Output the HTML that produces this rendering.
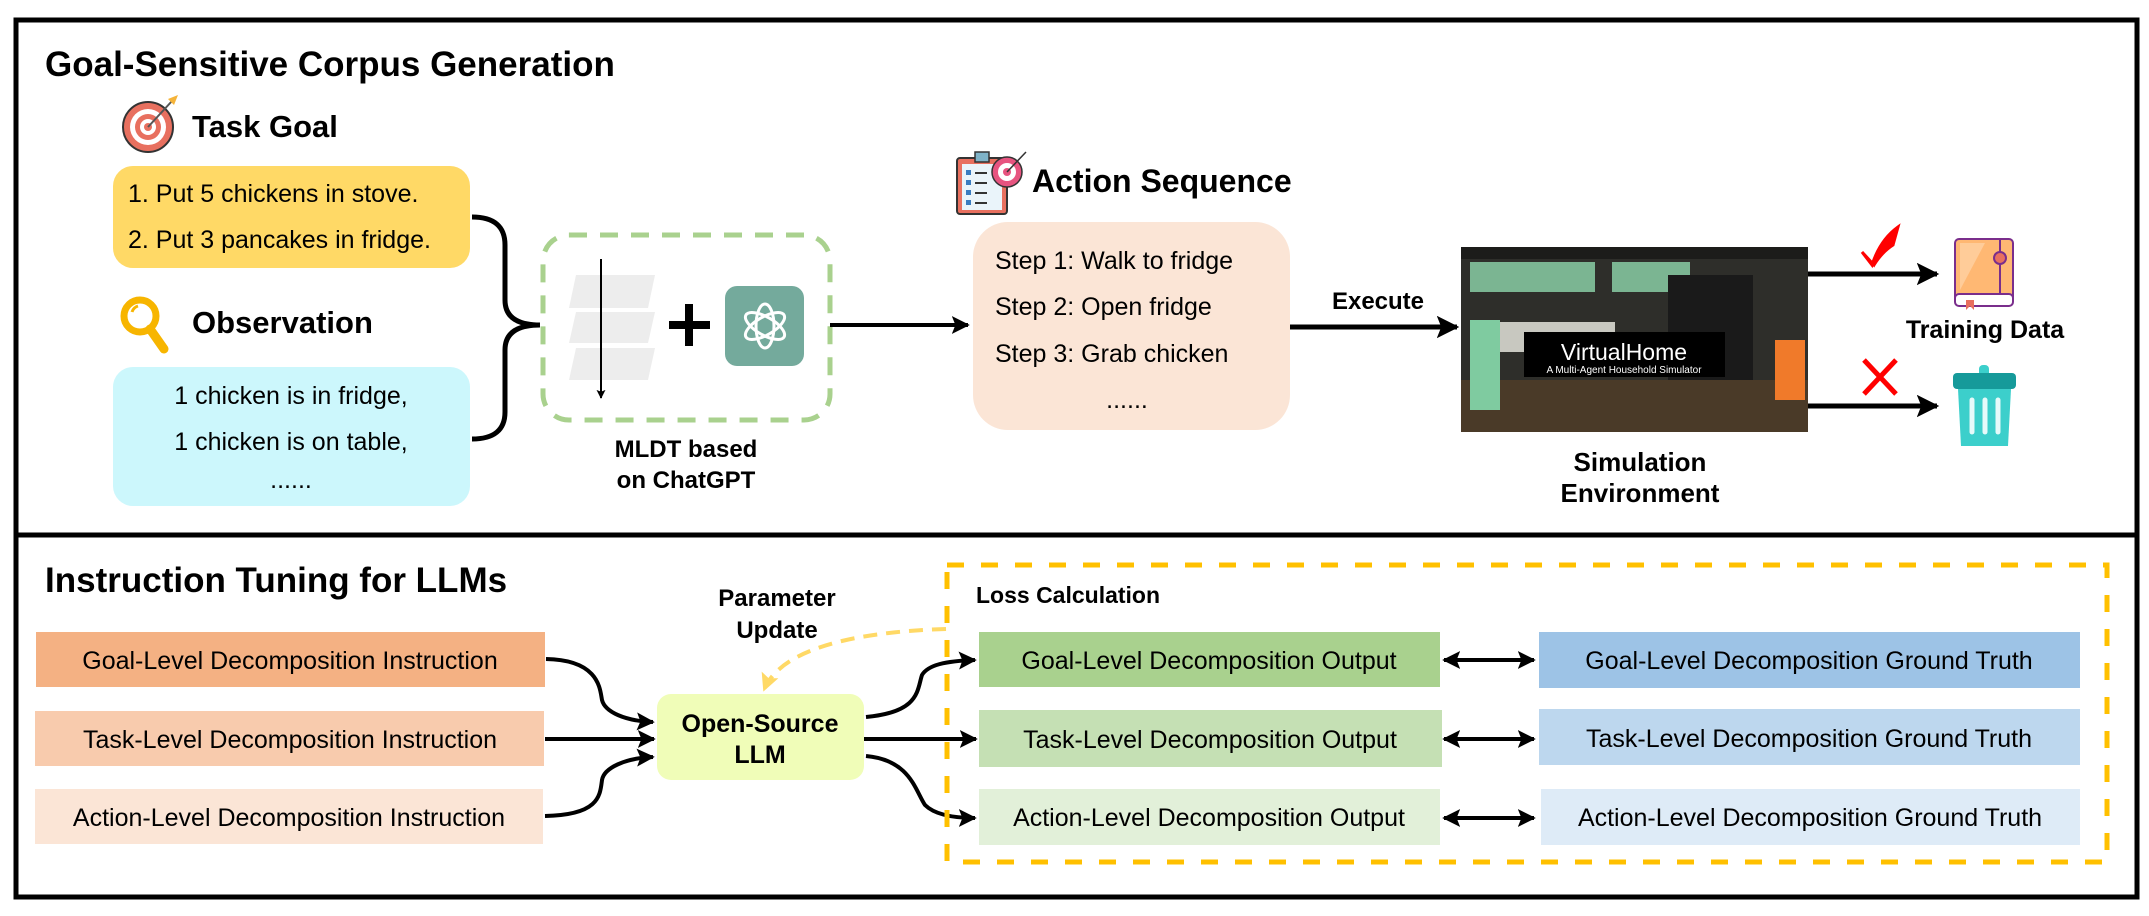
<!DOCTYPE html>
<html><head><meta charset="utf-8"><style>
html,body{margin:0;padding:0;background:#fff;}
svg{display:block;font-family:"Liberation Sans",sans-serif;}
</style></head><body>
<svg width="2149" height="916" viewBox="0 0 2149 916" xmlns="http://www.w3.org/2000/svg">
<defs>
<marker id="ah" viewBox="0 0 10 10" refX="9" refY="5" markerWidth="4.5" markerHeight="4.5" orient="auto-start-reverse" markerUnits="strokeWidth"><path d="M0,0 L10,5 L0,10 L2,5 z" fill="#000"/></marker>
<marker id="ay" viewBox="0 0 10 10" refX="9" refY="5" markerWidth="4.5" markerHeight="4.5" orient="auto" markerUnits="strokeWidth"><path d="M0,0 L10,5 L0,10 L2,5 z" fill="#FFD966"/></marker>
</defs>
<rect x="16" y="20" width="2121" height="877" fill="#fff" stroke="#000" stroke-width="5"/>
<line x1="16" y1="535" x2="2137" y2="535" stroke="#000" stroke-width="5"/>

<text x="45" y="76" font-size="35" font-weight="bold">Goal-Sensitive Corpus Generation</text>
<g transform="translate(148,127)">
<circle r="25" fill="#E8705F" stroke="#333" stroke-width="2"/><circle r="18" fill="#fff"/><circle r="13" fill="#E8705F"/><circle r="8" fill="#fff"/><circle r="4" fill="#E8705F"/>
<line x1="0" y1="0" x2="24" y2="-26" stroke="#555" stroke-width="2"/><path d="M20,-28 L30,-32 L26,-22 z" fill="#F5B43A"/>
</g>
<text x="192" y="137" font-size="31" font-weight="bold">Task Goal</text>
<rect x="113" y="166" width="357" height="102" rx="20" fill="#FFD966"/>
<text x="128" y="202" font-size="25">1. Put 5 chickens in stove.</text>
<text x="128" y="248" font-size="25">2. Put 3 pancakes in fridge.</text>
<g transform="translate(140,316)">
<circle r="16" fill="none" stroke="#F7B500" stroke-width="7"/><line x1="10" y1="13" x2="24" y2="33" stroke="#F7B500" stroke-width="9" stroke-linecap="round"/>
<path d="M-8,-4 A9,9 0 0 1 -2,-10" stroke="#F7B500" stroke-width="3" fill="none"/>
</g>
<text x="192" y="333" font-size="31" font-weight="bold">Observation</text>
<rect x="113" y="367" width="357" height="139" rx="20" fill="#CCF7FC"/>
<text x="291" y="404" font-size="25" text-anchor="middle">1 chicken is in fridge,</text>
<text x="291" y="450" font-size="25" text-anchor="middle">1 chicken is on table,</text>
<text x="291" y="488" font-size="25" text-anchor="middle">......</text>
<path d="M472,217 Q505,217 505,245 L505,300 Q505,325 540,325 Q505,325 505,350 L505,412 Q505,439 472,439" fill="none" stroke="#000" stroke-width="5"/>
<rect x="543" y="235" width="287" height="185" rx="26" fill="none" stroke="#A9D18E" stroke-width="5" stroke-dasharray="18,13"/>
<polygon points="576,275 655,275 648,308 569,308" fill="#EDEDED"/>
<polygon points="576,312 655,312 648,343 569,343" fill="#EDEDED"/>
<polygon points="576,348 655,348 648,380 569,380" fill="#EDEDED"/>
<line x1="601" y1="259" x2="601" y2="398" stroke="#000" stroke-width="2" marker-end="url(#ah)"/>
<path d="M669,325 H710 M689,304 V346" stroke="#000" stroke-width="8"/>
<rect x="725" y="286" width="79" height="80" rx="12" fill="#74AA9C"/>
<g transform="translate(765,326)" fill="none" stroke="#fff" stroke-width="3">
<ellipse rx="9" ry="22"/><ellipse rx="9" ry="22" transform="rotate(60)"/><ellipse rx="9" ry="22" transform="rotate(120)"/>
</g>
<text x="686" y="457" font-size="24" font-weight="bold" text-anchor="middle">MLDT based</text>
<text x="686" y="488" font-size="24" font-weight="bold" text-anchor="middle">on ChatGPT</text>
<line x1="830" y1="325" x2="968" y2="325" stroke="#000" stroke-width="4" marker-end="url(#ah)"/>
<g transform="translate(957,150)">
<rect x="0" y="8" width="50" height="56" rx="3" fill="#E8705F" stroke="#333" stroke-width="2"/>
<rect x="5" y="14" width="40" height="46" fill="#EAF4FA"/>
<rect x="18" y="2" width="14" height="10" fill="#7FB3C8" stroke="#333" stroke-width="1.5"/>
<g fill="#3A7CC0"><rect x="9" y="20" width="5" height="5"/><rect x="9" y="30" width="5" height="5"/><rect x="9" y="40" width="5" height="5"/><rect x="9" y="50" width="5" height="5"/></g>
<g stroke="#333" stroke-width="2"><line x1="18" y1="23" x2="30" y2="23"/><line x1="18" y1="33" x2="30" y2="33"/><line x1="18" y1="43" x2="30" y2="43"/><line x1="18" y1="53" x2="30" y2="53"/></g>
<circle cx="50" cy="22" r="15" fill="#E75480" stroke="#333" stroke-width="1.5"/><circle cx="50" cy="22" r="9" fill="#fff"/><circle cx="50" cy="22" r="4" fill="#E75480"/>
<line x1="50" y1="22" x2="69" y2="2" stroke="#333" stroke-width="1.5"/>
</g>
<text x="1032" y="192" font-size="32" font-weight="bold">Action Sequence</text>
<rect x="973" y="222" width="317" height="208" rx="35" fill="#FBE5D6"/>
<text x="995" y="269" font-size="25">Step 1: Walk to fridge</text>
<text x="995" y="315" font-size="25">Step 2: Open fridge</text>
<text x="995" y="362" font-size="25">Step 3: Grab chicken</text>
<text x="1127" y="408" font-size="25" text-anchor="middle">......</text>
<line x1="1290" y1="327" x2="1457" y2="327" stroke="#000" stroke-width="5" marker-end="url(#ah)"/>
<text x="1378" y="309" font-size="24" font-weight="bold" text-anchor="middle">Execute</text>
<rect x="1461" y="247" width="347" height="185" fill="#2e2e2a"/>
<rect x="1461" y="247" width="347" height="12" fill="#1c1c1a"/>
<rect x="1470" y="262" width="125" height="30" fill="#7BB592"/>
<rect x="1612" y="262" width="78" height="30" fill="#7BB592"/>
<rect x="1668" y="275" width="85" height="120" fill="#1a1a1a"/>
<rect x="1495" y="322" width="120" height="30" fill="#c8c8c0"/>
<rect x="1461" y="380" width="347" height="52" fill="#4a3a28"/>
<rect x="1470" y="320" width="30" height="90" fill="#7fcba0"/>
<rect x="1775" y="340" width="30" height="60" fill="#f07a2a"/>
<rect x="1524" y="332" width="201" height="45" fill="#000"/>
<text x="1624" y="360" font-size="23" fill="#fff" text-anchor="middle">VirtualHome</text>
<text x="1624" y="373" font-size="10" fill="#fff" text-anchor="middle">A Multi-Agent Household Simulator</text>
<text x="1640" y="471" font-size="26" font-weight="bold" text-anchor="middle">Simulation</text>
<text x="1640" y="502" font-size="26" font-weight="bold" text-anchor="middle">Environment</text>
<line x1="1808" y1="274" x2="1937" y2="274" stroke="#000" stroke-width="5" marker-end="url(#ah)"/>
<line x1="1808" y1="406" x2="1937" y2="406" stroke="#000" stroke-width="5" marker-end="url(#ah)"/>
<path d="M1862,252 L1872,265 Q1880,240 1898,227 L1893,245 Q1882,252 1874,265 Z" fill="#F00" stroke="#F00" stroke-width="3"/>
<path d="M1864,360 L1896,394 M1896,360 L1864,394" stroke="#F00" stroke-width="5"/>
<g>
<rect x="1955" y="239" width="58" height="62" rx="4" fill="#FFB873" stroke="#7A2E8C" stroke-width="2"/>
<polygon points="1960,243 1985,243 1960,290" fill="#FFCC99"/>
<rect x="1955" y="294" width="58" height="12" rx="4" fill="#fff" stroke="#7A2E8C" stroke-width="2"/>
<line x1="2000" y1="239" x2="2000" y2="294" stroke="#7A2E8C" stroke-width="2"/>
<circle cx="2000" cy="258" r="6" fill="#E8705F" stroke="#7A2E8C" stroke-width="2"/>
<path d="M1966,300 V310 L1970,306 L1974,310 V300" fill="#E8705F"/>
</g>
<text x="1985" y="338" font-size="25" font-weight="bold" text-anchor="middle">Training Data</text>
<g fill="#3CCFCB">
<rect x="1979" y="365" width="10" height="12" rx="4"/>
<rect x="1953" y="373" width="63" height="16" rx="4" fill="#169A9A"/>
<path d="M1958,389 H2011 L2008,446 H1961 Z"/>
</g>
<g stroke="#E6FAFA" stroke-width="5" stroke-linecap="round"><line x1="1972" y1="400" x2="1972" y2="432"/><line x1="1985" y1="400" x2="1985" y2="432"/><line x1="1998" y1="400" x2="1998" y2="432"/></g>

<text x="45" y="592" font-size="35" font-weight="bold">Instruction Tuning for LLMs</text>
<rect x="36" y="632" width="509" height="55" fill="#F4B183"/>
<text x="290" y="669" font-size="25" text-anchor="middle">Goal-Level Decomposition Instruction</text>
<rect x="35" y="711" width="509" height="55" fill="#F8CBAD"/>
<text x="290" y="748" font-size="25" text-anchor="middle">Task-Level Decomposition Instruction</text>
<rect x="35" y="789" width="508" height="55" fill="#FBE5D6"/>
<text x="289" y="826" font-size="25" text-anchor="middle">Action-Level Decomposition Instruction</text>

<rect x="657" y="694" width="207" height="86" rx="14" fill="#F0FDB8"/>
<text x="760" y="732" font-size="25" font-weight="bold" text-anchor="middle">Open-Source</text>
<text x="760" y="763" font-size="25" font-weight="bold" text-anchor="middle">LLM</text>

<g fill="none" stroke="#000" stroke-width="4">
<path d="M546,659 C600,660 600,690 602,700 C605,712 625,721 653,722" marker-end="url(#ah)"/>
<line x1="545" y1="739" x2="654" y2="739" marker-end="url(#ah)"/>
<path d="M545,816 C600,815 600,795 602,780 C604,768 625,758 653,757" marker-end="url(#ah)"/>
<path d="M866,717 C920,712 917,690 922,675 C928,665 945,661 975,660" marker-end="url(#ah)"/>
<line x1="864" y1="739" x2="976" y2="739" marker-end="url(#ah)"/>
<path d="M866,756 C910,760 915,790 925,805 C935,815 955,818 975,818" marker-end="url(#ah)"/>
<line x1="1444" y1="660" x2="1534" y2="660" marker-start="url(#ah)" marker-end="url(#ah)"/>
<line x1="1444" y1="739" x2="1534" y2="739" marker-start="url(#ah)" marker-end="url(#ah)"/>
<line x1="1444" y1="818" x2="1534" y2="818" marker-start="url(#ah)" marker-end="url(#ah)"/>
</g>
<text x="777" y="606" font-size="24" font-weight="bold" text-anchor="middle">Parameter</text>
<text x="777" y="638" font-size="24" font-weight="bold" text-anchor="middle">Update</text>
<path d="M946,629 C850,632 780,650 764,690" fill="none" stroke="#FFD966" stroke-width="4" stroke-dasharray="14,9" marker-end="url(#ay)"/>

<rect x="947" y="565" width="1160" height="297" fill="none" stroke="#FFC000" stroke-width="5" stroke-dasharray="17,17"/>
<text x="976" y="603" font-size="23" font-weight="bold">Loss Calculation</text>

<rect x="979" y="632" width="461" height="55" fill="#A9D18E"/>
<text x="1209" y="669" font-size="25" text-anchor="middle">Goal-Level Decomposition Output</text>
<rect x="979" y="710" width="463" height="57" fill="#C5E0B4"/>
<text x="1210" y="748" font-size="25" text-anchor="middle">Task-Level Decomposition Output</text>
<rect x="979" y="789" width="461" height="56" fill="#E2F0D9"/>
<text x="1209" y="826" font-size="25" text-anchor="middle">Action-Level Decomposition Output</text>

<rect x="1539" y="632" width="541" height="56" fill="#9DC3E6"/>
<text x="1809" y="669" font-size="25" text-anchor="middle">Goal-Level Decomposition Ground Truth</text>
<rect x="1539" y="709" width="541" height="56" fill="#BDD7EE"/>
<text x="1809" y="747" font-size="25" text-anchor="middle">Task-Level Decomposition Ground Truth</text>
<rect x="1541" y="789" width="539" height="56" fill="#DEEBF7"/>
<text x="1810" y="826" font-size="25" text-anchor="middle">Action-Level Decomposition Ground Truth</text>
</svg>
</body></html>
